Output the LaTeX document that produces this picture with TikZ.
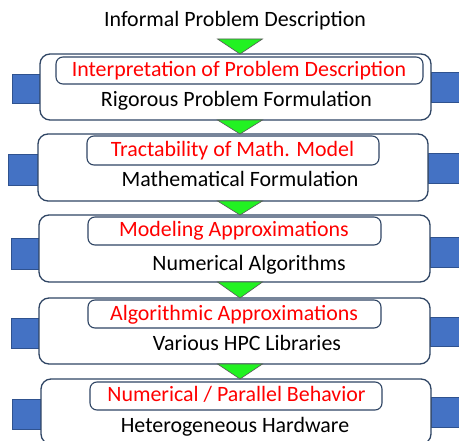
\documentclass[tikz,border=0pt]{standalone}
\usepackage{fontspec}
\setmainfont{Carlito}
\usetikzlibrary{fit,calc}
\definecolor{navy}{HTML}{2F4564}
\definecolor{boxblue}{HTML}{4472C4}
\definecolor{boxblueedge}{HTML}{2F528F}
\definecolor{arrowgreen}{HTML}{22F222}
\begin{document}
\begin{tikzpicture}[x=1pt,y=-1pt,
  outerbox/.style={draw=navy, line width=1.3pt, rounded corners=10pt, fill=white, inner sep=0pt, outer sep=0pt},
  innerbox/.style={draw=navy, line width=1.1pt, rounded corners=7pt, fill=white, inner sep=0pt, outer sep=0pt},
  sidebox/.style={draw=boxblueedge, line width=0.8pt, fill=boxblue, inner sep=0pt, outer sep=0pt},
  flowarrow/.style={draw=black!65, line width=0.6pt, fill=arrowgreen},
  lbl/.style={font=\fontsize{21.9}{25}\selectfont, anchor=base, inner sep=0pt},
  redtxt/.style={lbl, text=red},
  blacktxt/.style={lbl, text=black}]
\useasboundingbox (0,0) rectangle (459,441);
\clip (0,0) rectangle (459,441);
% side squares
\node[sidebox, fit={(12,74) (40,103)}] (l1) {};
\node[sidebox, fit={(431,72) (462,102)}] (r1) {};
\node[sidebox, fit={(8,154) (38,185)}] (l2) {};
\node[sidebox, fit={(428,153) (462,183)}] (r2) {};
\node[sidebox, fit={(11,238) (39,269)}] (l3) {};
\node[sidebox, fit={(430,237) (462,267)}] (r3) {};
\node[sidebox, fit={(11,318) (39,348)}] (l4) {};
\node[sidebox, fit={(430,317) (462,346)}] (r4) {};
\node[sidebox, fit={(12,399) (41,429)}] (l5) {};
\node[sidebox, fit={(431,397) (462,427)}] (r5) {};
% title
\node[blacktxt] (title) at (235,27) {Informal Problem Description};
\coordinate (ax) at (240,39);
% outer boxes
\node[outerbox, fit={(40,54) (431,120)}] (o1) {};
\node[outerbox, fit={(38,134) (428,201)}] (o2) {};
\node[outerbox, fit={(39,215) (430,282)}] (o3) {};
\node[outerbox, fit={(39,298) (430,364)}] (o4) {};
\node[outerbox, fit={(41,379) (431,444)}] (o5) {};
% flow triangles
\draw[flowarrow] ($(ax)+(-22.5,0)$) -- ($(ax)+(22.5,0)$) -- (o1.north -| ax) -- cycle;
\draw[flowarrow] ($(o1.south -| ax)+(-22.5,0)$) -- ($(o1.south -| ax)+(22.5,0)$) -- (o2.north -| ax) -- cycle;
\draw[flowarrow] ($(o2.south -| ax)+(-22.5,0)$) -- ($(o2.south -| ax)+(22.5,0)$) -- (o3.north -| ax) -- cycle;
\draw[flowarrow] ($(o3.south -| ax)+(-22.5,0)$) -- ($(o3.south -| ax)+(22.5,0)$) -- (o4.north -| ax) -- cycle;
\draw[flowarrow] ($(o4.south -| ax)+(-22.5,0)$) -- ($(o4.south -| ax)+(22.5,0)$) -- (o5.north -| ax) -- cycle;
% inner boxes
\node[innerbox, fit={(56,57) (423,84)}] (i1) {};
\node[innerbox, fit={(87,136) (379,165)}] (i2) {};
\node[innerbox, fit={(88,217) (381,245)}] (i3) {};
\node[innerbox, fit={(88,300) (381,328)}] (i4) {};
\node[innerbox, fit={(90,382) (382,410)}] (i5) {};
% texts
\node[redtxt] (t1r) at (239,77) {Interpretation of Problem Description};
\node[blacktxt] (t1b) at (236.5,107) {Rigorous Problem Formulation};
\node[redtxt] (t2r) at (232.5,157) {Tractability of Math. Model};
\node[blacktxt] (t2b) at (240,187) {Mathematical Formulation};
\node[redtxt] (t3r) at (234,237) {Modeling Approximations};
\node[blacktxt] (t3b) at (249,271) {Numerical Algorithms};
\node[redtxt] (t4r) at (234,321) {Algorithmic Approximations};
\node[blacktxt] (t4b) at (247,351) {Various HPC Libraries};
\node[redtxt] (t5r) at (236.5,402) {Numerical / Parallel Behavior};
\node[blacktxt] (t5b) at (235,433) {Heterogeneous Hardware};
\end{tikzpicture}
\end{document}
